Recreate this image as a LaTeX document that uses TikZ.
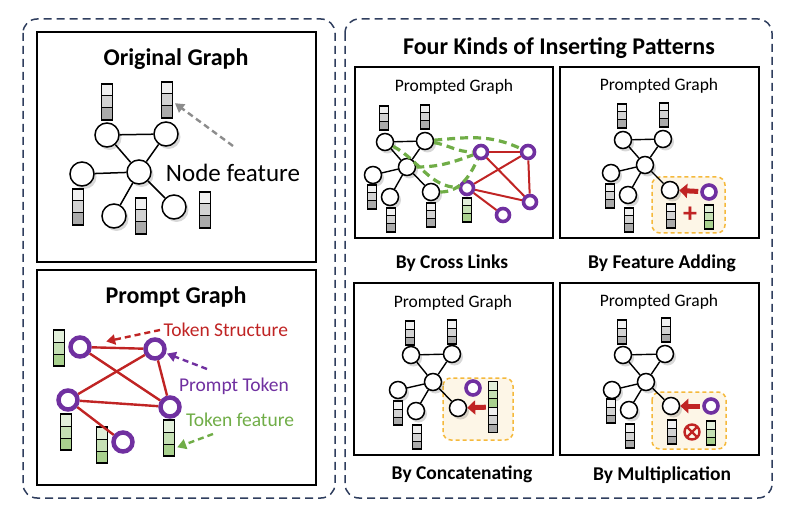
\documentclass[tikz,border=0pt]{standalone}
\usepackage{fontspec}
\setmainfont{Carlito}
\usepackage{tikz}
\usetikzlibrary{calc}
\usetikzlibrary{arrows.meta}
\usetikzlibrary{shadows}

\definecolor{navy}{RGB}{47,62,94}
\definecolor{tokred}{RGB}{192,36,36}
\definecolor{tokpurple}{RGB}{112,48,160}
\definecolor{tokgreen}{RGB}{112,173,71}
\definecolor{hintgray}{RGB}{140,140,140}
\definecolor{boxorange}{RGB}{245,185,60}
\definecolor{boxcream}{RGB}{253,246,231}
\definecolor{gA}{RGB}{240,240,240}
\definecolor{gB}{RGB}{210,210,210}
\definecolor{gC}{RGB}{170,170,170}
\definecolor{tA}{RGB}{226,239,218}
\definecolor{tB}{RGB}{197,224,180}
\definecolor{tC}{RGB}{169,209,142}

\tikzset{
  cells/.style 2 args={path picture={
    \coordinate (pnw) at (path picture bounding box.north west);
    \coordinate (pne) at (path picture bounding box.north east);
    \coordinate (psw) at (path picture bounding box.south west);
    \coordinate (pse) at (path picture bounding box.south east);
    \foreach \cc [count=\k from 0] in {#2} {
      \fill[\cc] ($(pnw)!{\k/#1}!(psw)$) rectangle ($(pne)!{(\k+1)/#1}!(pse)$);
      \draw[line width=1pt] ($(pnw)!{\k/#1}!(psw)$) -- ($(pne)!{\k/#1}!(pse)$);
    }}},
  barbase/.style={draw=black, line width=1.6pt, inner sep=0pt, minimum width=11pt, minimum height=36pt},
  featbar/.style={barbase, cells={3}{gA,gB,gC}},
  tokbar/.style={barbase, cells={3}{tA,tB,tC}},
  sfeatbar/.style={featbar, line width=1.4pt, minimum width=8.5pt, minimum height=24pt},
  stokbar/.style={tokbar, line width=1.4pt, minimum width=8.5pt, minimum height=24pt},
  gnode/.style={circle, draw=black, line width=1.5pt, fill=white, minimum size=24pt, inner sep=0pt,
    drop shadow={shadow xshift=2.5pt, shadow yshift=-3pt, opacity=0.22, fill=black!70}},
  snode/.style={gnode, minimum size=17pt},
  ptoken/.style={circle, draw=tokpurple, line width=4.5pt, fill=white, minimum size=19pt, inner sep=0pt},
  sptoken/.style={ptoken, line width=3.6pt, minimum size=13pt},
  otimes/.style={circle, draw=tokred, line width=2.4pt, minimum size=15pt, inner sep=0pt,
    path picture={\draw[tokred, line width=2.4pt]
      (path picture bounding box.north west) -- (path picture bounding box.south east)
      (path picture bounding box.north east) -- (path picture bounding box.south west);}},
  panel/.style={draw=navy, line width=1.5pt, dash pattern=on 8pt off 5pt, rounded corners=14pt},
  frame/.style={draw=black, line width=1.6pt},
  mixbox/.style={draw=boxorange, fill=boxcream, line width=1.5pt, dash pattern=on 4pt off 3pt, rounded corners=8pt},
  title/.style={font=\fontsize{24}{28}\selectfont\bfseries},
  caption/.style={font=\fontsize{19.5}{23}\selectfont\bfseries},
  subtitle/.style={font=\fontsize{17.5}{21}\selectfont},
  hint/.style={line width=2.4pt, dash pattern=on 6pt off 4pt, -{Triangle[length=9pt,width=10pt]}},
  fatarrow/.style={draw=tokred, line width=5pt, -{Triangle[length=8pt,width=14pt]}, shorten <=2pt},
  link/.style={draw=tokgreen, line width=3.2pt, dash pattern=on 8pt off 5pt}
}

\begin{document}
\begin{tikzpicture}[x=1pt, y=-1pt]
\useasboundingbox (0,0) rectangle (804,516);

% frames
\draw[panel] (23,19) rectangle (335,498);
\draw[panel] (345,19) rectangle (772,498);
\draw[frame] (37,32) rectangle (316,262);
\draw[frame] (37,270) rectangle (316,485);
\draw[frame] (355,67) rectangle (553,238);
\draw[frame] (560,67) rectangle (759,238);
\draw[frame] (354,283) rectangle (553,455);
\draw[frame] (560,283) rectangle (759,455);

% texts
\node[title] (ogTitle) at (176,59) {Original Graph};
\node[title] (pgTitle) at (176,297) {Prompt Graph};
\node[title] (fkTitle) at (559,48) {Four Kinds of Inserting Patterns};
\node[subtitle] (Lhead) at (454,87) {Prompted Graph};
\node[subtitle] (Ahead) at (659,86) {Prompted Graph};
\node[subtitle] (Chead) at (453,303) {Prompted Graph};
\node[subtitle] (Mhead) at (659,302) {Prompted Graph};
\node[caption] (Lcap) at (452,263) {By Cross Links};
\node[caption] (Acap) at (662,263) {By Feature Adding};
\node[caption] (Ccap) at (462,474) {By Concatenating};
\node[caption] (Mcap) at (662,475) {By Multiplication};

% original graph
\node[gnode] (o1) at (107,135) {};
\node[gnode] (o2) at (166,134) {};
\node[gnode] (o3) at (139,172) {};
\node[gnode] (o4) at (82,174) {};
\node[gnode] (o5) at (114,216) {};
\node[gnode] (o6) at (174,207) {};
\node[featbar] (f1) at (107,102) {};
\node[featbar] (f2) at (167,100) {};
\node[featbar] (f4) at (78,207) {};
\node[featbar] (f5) at (141,216) {};
\node[featbar] (f6) at (205,210) {};
\node[font=\fontsize{25}{29}\selectfont] (nfLabel) at (233,173) {Node feature};
\coordinate (nfTail) at (233,146);

\begin{scope}[every edge/.style={draw=black, line width=1.5pt}]
\path (o1) edge (o2) (o1) edge (o3) (o2) edge (o3);
\path (o3) edge (o4) (o3) edge (o5) (o3) edge (o6);
\end{scope}
\path (nfTail) edge[hint, draw=hintgray, shorten >=2pt] ([yshift=-2pt]f2.east);

% prompt graph
\node[ptoken] (t1) at (80,347) {};
\node[ptoken] (t2) at (155,349) {};
\node[ptoken] (t3) at (68,400) {};
\node[ptoken] (t4) at (170,407) {};
\node[ptoken] (t5) at (123,442) {};
\node[tokbar] (g1) at (59,348) {};
\node[tokbar] (g3) at (66,432) {};
\node[tokbar] (g5) at (102,445) {};
\node[tokbar] (g4) at (169,438) {};
\node[text=tokred, font=\fontsize{19.5}{23}\selectfont, anchor=west] (tsLabel) at (160,330) {Token Structure};
\node[text=tokpurple, font=\fontsize{19.5}{23}\selectfont] (ptLabel) at (234,386) {Prompt Token};
\node[text=tokgreen, font=\fontsize{19.5}{23}\selectfont] (tfLabel) at (240,420) {Token feature};
\coordinate (ptTail) at (207,369);
\coordinate (tfTail) at (213,434);

\begin{scope}[every edge/.style={draw=tokred, line width=2.4pt}]
\path (t1) edge (t2) (t1) edge (t4) (t2) edge (t3);
\path (t2) edge (t4) (t3) edge (t4) (t3) edge (t5);
\end{scope}
\path (tsLabel.west) edge[hint, draw=tokred, shorten >=15pt] (t1);
\path (ptTail) edge[hint, draw=tokpurple, shorten >=1pt] (t2);
\path (tfTail) edge[hint, draw=tokgreen, shorten >=2pt] ([yshift=-10pt]g4.east);

% by cross links
\begin{scope}[shift={(385,142)}]
\node[snode] (La) at (0,0) {};
\node[snode] (Lb) at (40,-1) {};
\node[snode] (Lc) at (22,25) {};
\node[snode] (Ld) at (-12,33) {};
\node[snode] (Le) at (5,55) {};
\node[snode] (Lf) at (46,50) {};
\node[sfeatbar] (Lba) at (-1,-24) {};
\node[sfeatbar] (Lbb) at (40,-25) {};
\node[sfeatbar] (Lbd) at (-13,55) {};
\node[sfeatbar] (Lbe) at (6,78) {};
\node[sfeatbar] (Lbf) at (46,73) {};
\node[sptoken] (Lp1) at (96,10) {};
\node[sptoken] (Lp2) at (143,10) {};
\node[sptoken] (Lp3) at (82,46) {};
\node[sptoken] (Lp4) at (145,60) {};
\node[sptoken] (Lp5) at (118,73) {};
\node[stokbar] (Lg) at (82,68) {};
\end{scope}
\begin{scope}[every edge/.style={draw=black, line width=1.4pt}]
\path (La) edge (Lb) (La) edge (Lc) (Lb) edge (Lc);
\path (Lc) edge (Ld) (Lc) edge (Le) (Lc) edge (Lf);
\end{scope}
\begin{scope}[every edge/.style={draw=tokred, line width=2pt}]
\path (Lp1) edge (Lp2) (Lp1) edge (Lp4) (Lp2) edge (Lp3);
\path (Lp2) edge (Lp4) (Lp3) edge (Lp4) (Lp3) edge (Lp5);
\end{scope}
\begin{scope}[every edge/.style={link}]
\path (Lb) edge[out=5, in=155] (Lp2);
\path (Lb) edge[out=-10, in=180] (Lp1);
\path (Lc) edge[out=0, in=200] (Lp1);
\path (Lf) edge[out=0, in=-115] (Lp1);
\path (La) edge[out=-28, in=178] (Lp3);
\end{scope}

% by feature adding
\begin{scope}[shift={(623,140)}]
\draw[mixbox] (29,37) rectangle (102,93);
\node[snode] (Aa) at (0,0) {};
\node[snode] (Ab) at (40,-1) {};
\node[snode] (Ac) at (22,25) {};
\node[snode] (Ad) at (-12,33) {};
\node[snode] (Ae) at (5,55) {};
\node[snode] (Af) at (47,50) {};
\node[sfeatbar] (Aba) at (-1,-24) {};
\node[sfeatbar] (Abb) at (41,-25) {};
\node[sfeatbar] (Abd) at (-13,56) {};
\node[sfeatbar] (Abe) at (6,80) {};
\node[sfeatbar] (Abf) at (48,76) {};
\node[sptoken, minimum size=14pt] (Ap) at (86,52) {};
\node[stokbar] (Ag) at (86,77) {};
\node[text=tokred, font=\fontsize{28}{28}\selectfont\bfseries] (Aplus) at (67,75) {+};
\end{scope}
\begin{scope}[every edge/.style={draw=black, line width=1.4pt}]
\path (Aa) edge (Ab) (Aa) edge (Ac) (Ab) edge (Ac);
\path (Ac) edge (Ad) (Ac) edge (Ae) (Ac) edge (Af);
\end{scope}
\path (Ap) edge[fatarrow] (Af);

% by concatenating
\begin{scope}[shift={(411,355)}]
\draw[mixbox] (32,23) rectangle (102,85);
\node[snode] (Ca) at (0,0) {};
\node[snode] (Cb) at (41,-1) {};
\node[snode] (Cc) at (22,27) {};
\node[snode] (Cd) at (-13,35) {};
\node[snode] (Ce) at (5,56) {};
\node[snode] (Cf) at (47,53) {};
\node[sfeatbar] (Cba) at (-1,-22) {};
\node[sfeatbar] (Cbb) at (41,-23) {};
\node[sfeatbar] (Cbd) at (-13,58) {};
\node[sfeatbar] (Cbe) at (6,82) {};
\node[sptoken, minimum size=14pt] (Cp) at (62,33) {};
\node[barbase, line width=1.4pt, minimum width=9pt, minimum height=51pt,
  cells={6}{tA,tB,tC,gA,gB,gC}] (Cbar) at (82,52) {};
\end{scope}
\begin{scope}[every edge/.style={draw=black, line width=1.4pt}]
\path (Ca) edge (Cb) (Ca) edge (Cc) (Cb) edge (Cc);
\path (Cc) edge (Cd) (Cc) edge (Ce) (Cc) edge (Cf);
\end{scope}
\path (Cbar) edge[fatarrow] (Cf);

% by multiplication
\begin{scope}[shift={(623,355)}]
\draw[mixbox] (29,37) rectangle (103,94);
\node[snode] (Ma) at (0,0) {};
\node[snode] (Mb) at (42,-1) {};
\node[snode] (Mc) at (23,27) {};
\node[snode] (Md) at (-11,35) {};
\node[snode] (Me) at (6,55) {};
\node[snode] (Mf) at (48,51) {};
\node[sfeatbar] (Mba) at (-1,-23) {};
\node[sfeatbar] (Mbb) at (43,-25) {};
\node[sfeatbar] (Mbd) at (-12,56) {};
\node[sfeatbar] (Mbe) at (7,81) {};
\node[sfeatbar] (Mbf) at (49,77) {};
\node[sptoken, minimum size=14pt] (Mp) at (88,51) {};
\node[stokbar] (Mg) at (88,78) {};
\node[otimes] (Mtimes) at (69,77) {};
\end{scope}
\begin{scope}[every edge/.style={draw=black, line width=1.4pt}]
\path (Ma) edge (Mb) (Ma) edge (Mc) (Mb) edge (Mc);
\path (Mc) edge (Md) (Mc) edge (Me) (Mc) edge (Mf);
\end{scope}
\path (Mp) edge[fatarrow] (Mf);
\end{tikzpicture}
\end{document}
